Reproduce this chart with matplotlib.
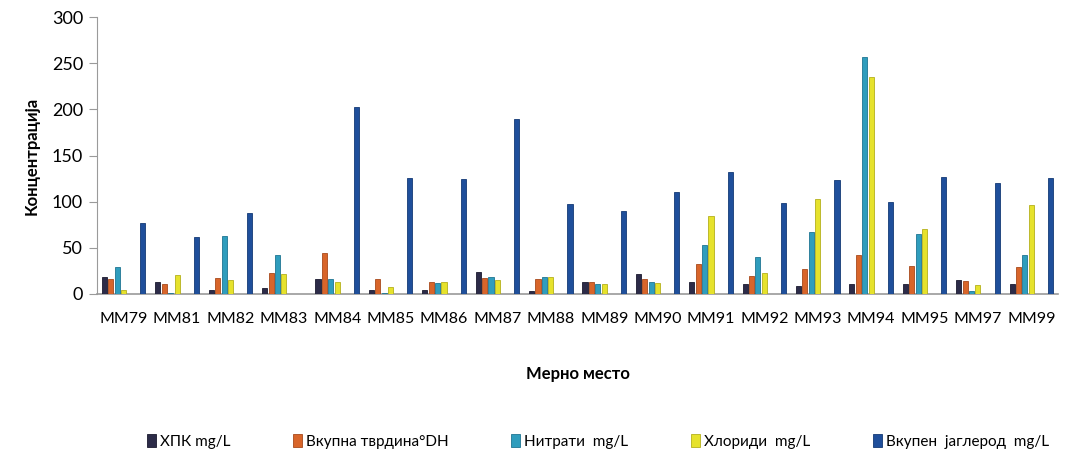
import matplotlib
matplotlib.use("Agg")
import matplotlib.pyplot as plt
import numpy as np

plt.rcParams['font.family'] = ['Lato', 'Open Sans', 'DejaVu Sans']

sites = ["MM79", "MM81", "MM82", "MM83", "MM84", "MM85", "MM86", "MM87", "MM88",
         "MM89", "MM90", "MM91", "MM92", "MM93", "MM94", "MM95", "MM97", "MM99"]

hpk = [18, 13.4, 4.3, 6.5, 16.3, 4.7, 4.7, 23.5, 3.6, 13.4, 21.7, 13.4, 11.2, 8.3, 11.2, 10.5, 15.2, 10.9]
hardness = [16, 11, 17, 22.4, 44.6, 16.3, 13.4, 17, 16.3, 13.4, 16, 33, 19.5, 27.2, 42.4, 30.4, 13.8, 29]
nitrates = [29, 1, 62.6, 42.4, 16, 1.5, 11.6, 18, 18, 10.5, 12.7, 53, 39.8, 67.4, 256.8, 64.5, 3.2, 42]
chlorides = [4, 21, 15.5, 21.7, 12.6, 8, 12.7, 15.2, 18.5, 11.2, 12, 84.8, 22.8, 102.5, 234.8, 69.9, 9.8, 96.3]
carbon = [77, 61.5, 87.6, 0, 202, 125.7, 124.6, 189, 97.4, 90, 110, 131.8, 99, 123.5, 99.3, 127, 119.9, 125.3]

series_names = ["ХПК mg/L", "Вкупна тврдина°DH", "Нитрати  mg/L", "Хлориди  mg/L", "Вкупен  јаглерод  mg/L"]
series_values = [hpk, hardness, nitrates, chlorides, carbon]
colors = ["#2c2b48", "#d8652a", "#2f9dbd", "#e6e22c", "#1f4f9b"]
edge_colors = ["#1a1a2e", "#a84a1c", "#1f7592", "#b4b01c", "#143a75"]
slots = [0, 1, 2, 3, 6]

fig = plt.figure(figsize=(10.81, 4.58), dpi=100)
ax = fig.add_axes([97 / 1081, 1 - 294 / 458, (1058 - 97) / 1081, (294 - 17) / 458])

x = np.arange(len(sites))
slot_w = 0.12
bar_w = 0.095
handles = []
for vals, slot, col, ec, name in zip(series_values, slots, colors, edge_colors, series_names):
    b = ax.bar(x + (slot - 3) * slot_w, vals, width=bar_w, color=col,
               edgecolor=ec, linewidth=0.6, label=name, zorder=3)
    handles.append(b)

ax.set_xlim(-0.5, len(sites) - 0.5)
ax.set_ylim(0, 300)
ax.set_yticks(range(0, 301, 50))
ax.set_xticks(x)
ax.set_xticklabels(sites)

for side in ["top", "right"]:
    ax.spines[side].set_visible(False)
ax.spines["left"].set_color("#9a9a9a")
ax.spines["bottom"].set_color("#9a9a9a")
ax.spines["bottom"].set_linewidth(1.2)
ax.tick_params(axis="y", color="#9a9a9a", length=6, labelsize=13, pad=4)
ax.tick_params(axis="x", length=0, labelsize=11.5, pad=13)

ax.set_ylabel("Концентрација", fontsize=12, fontweight="bold", labelpad=9)
ax.set_xlabel("Мерно место", fontsize=12, fontweight="bold", labelpad=29)

ax.legend(handles=handles, labels=series_names, ncol=5, frameon=False,
          loc="center", bbox_to_anchor=(0.521, -0.532), fontsize=11,
          handlelength=0.6, handleheight=0.9, handletextpad=0.25,
          columnspacing=4.1)

fig.savefig("out.png", dpi=100)
